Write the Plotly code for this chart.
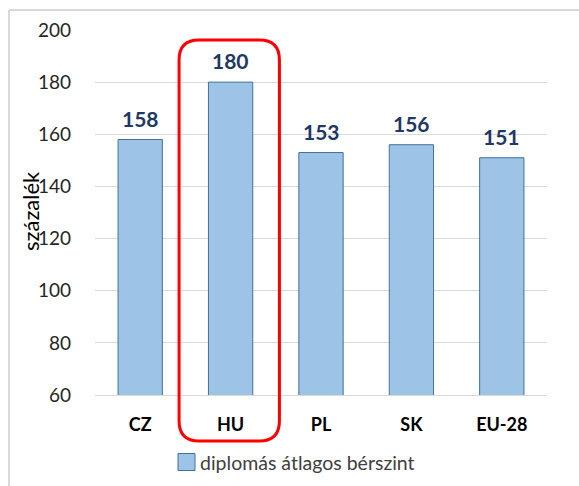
import plotly.graph_objects as go

categories = ["CZ", "HU", "PL", "SK", "EU-28"]
values = [158, 180, 153, 156, 151]
series_name = "diplomás átlagos bérszint"
y_ticks = [60, 80, 100, 120, 140, 160, 180, 200]
y_title = "százalék"
highlight = "HU"

W, H = 579, 486
ML, MR, MT, MB = 95, 32, 30, 91
PW, PH = W - ML - MR, H - MT - MB
FONT = "Lato, 'Open Sans', sans-serif"

fig = go.Figure()
fig.add_trace(go.Bar(
    x=categories, y=values, name=series_name, width=0.49,
    marker=dict(color="#9DC3E6", line=dict(color="#41719C", width=1)),
    showlegend=False,
))

for c, v in zip(categories, values):
    fig.add_annotation(x=c, y=v, text=f"<b>{v}</b>", showarrow=False,
                       yanchor="bottom", yshift=7,
                       font=dict(family=FONT, size=21, color="#1F3864"))

# highlight rounded rectangle around HU (computed from category index)
i = categories.index(highlight)
n = len(categories)
def xp(u):  # category units -> paper
    return (u + 0.5) / n
x0, x1 = xp(i - 0.57), xp(i + 0.54)
y0, y1 = -46 / PH, (395 - 40) / PH
rx, ry = 20 / PW, 20 / PH
path = (f"M {x0+rx},{y1} L {x1-rx},{y1} Q {x1},{y1} {x1},{y1-ry} "
        f"L {x1},{y0+ry} Q {x1},{y0} {x1-rx},{y0} L {x0+rx},{y0} "
        f"Q {x0},{y0} {x0},{y0+ry} L {x0},{y1-ry} Q {x0},{y1} {x0+rx},{y1} Z")
fig.add_shape(type="path", path=path, xref="paper", yref="paper",
              line=dict(color="#FF0000", width=3), fillcolor="rgba(0,0,0,0)")

# outer chart frame (top and left edges)
fx0 = (9 - ML) / PW
fy1 = (H - MB - 10) / PH
fig.add_shape(type="line", xref="paper", yref="paper", x0=fx0, x1=(W - ML + 5) / PW,
              y0=fy1, y1=fy1, line=dict(color="#D9D9D9", width=2))
fig.add_shape(type="line", xref="paper", yref="paper", x0=fx0, x1=fx0,
              y0=fy1, y1=-(MB + 5) / PH, line=dict(color="#D9D9D9", width=2))

# y-axis title
fig.add_annotation(xref="paper", yref="paper", x=(30 - ML) / PW, y=(H - MB - 211) / PH,
                   text=y_title, textangle=-90, showarrow=False,
                   xanchor="center", yanchor="middle",
                   font=dict(family=FONT, size=22, color="#000000"))

# custom legend (square swatch + text)
ly = -(462 - (H - MB)) / PH
sx0, sx1 = (178 - ML) / PW, (195 - ML) / PW
sh = 8.5 / PH
fig.add_shape(type="rect", xref="paper", yref="paper", x0=sx0, x1=sx1,
              y0=ly - sh, y1=ly + sh, fillcolor="#9DC3E6",
              line=dict(color="#41719C", width=1))
fig.add_annotation(xref="paper", yref="paper", x=(198 - ML) / PW, y=ly,
                   xanchor="left", yanchor="middle", showarrow=False,
                   text=series_name,
                   font=dict(family=FONT, size=19.5, color="#404040"))

fig.update_layout(
    width=W, height=H,
    margin=dict(l=ML, r=MR, t=MT, b=MB, autoexpand=False),
    paper_bgcolor="white", plot_bgcolor="white",
    font=dict(family=FONT, color="#404040"),
    xaxis=dict(showgrid=False, showline=True, linecolor="#D9D9D9", linewidth=1,
               ticks="", ticklabelstandoff=13, automargin=False,
               tickfont=dict(family=FONT, size=18, color="#000000", weight="bold")),
    yaxis=dict(range=[60, 200], tickvals=y_ticks, showgrid=True, gridcolor="#D9D9D9",
               gridwidth=1, zeroline=False, showline=False, ticks="",
               ticklabelstandoff=23, automargin=False,
               tickfont=dict(family=FONT, size=19, color="#262626")),
)

fig.write_html("out.html", config={"displayModeBar": False},
               post_script="document.body.style.margin='0px';")
